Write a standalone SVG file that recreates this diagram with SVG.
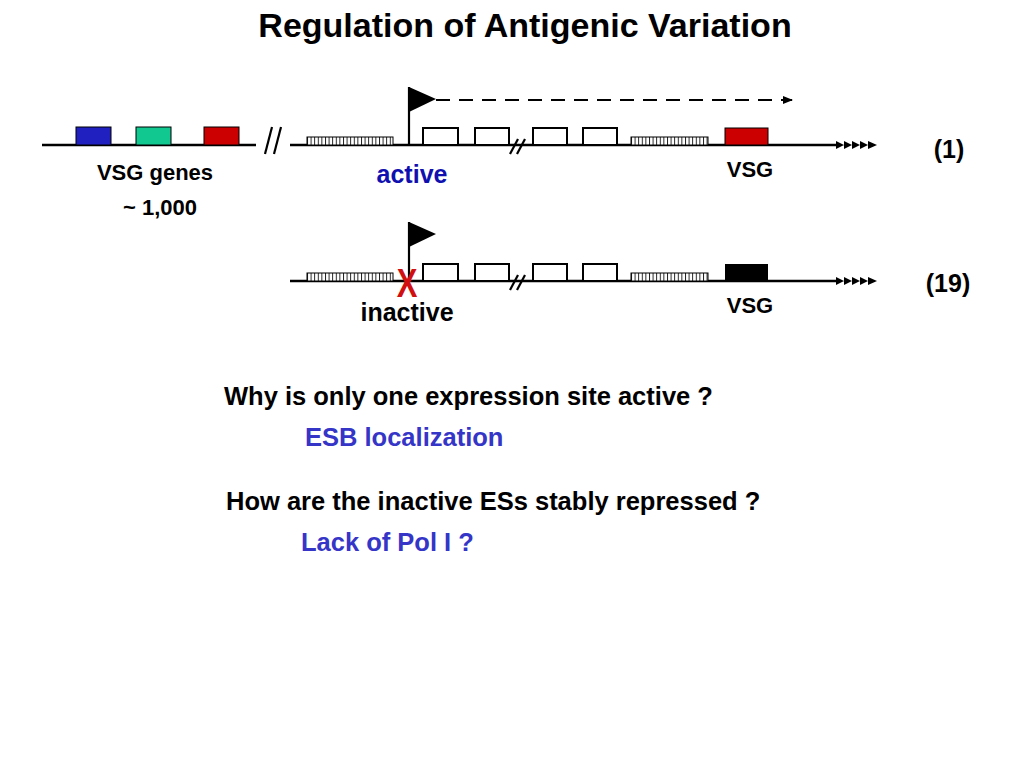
<svg xmlns="http://www.w3.org/2000/svg" width="1024" height="768" viewBox="0 0 1024 768">
<defs>
<style>
text{font-family:"Liberation Sans",Arial,sans-serif;font-weight:bold}
.ln{stroke:#000;stroke-width:2.5;fill:none}
.bx{fill:#fff;stroke:#000;stroke-width:2}
.th{stroke:#000;stroke-width:2.2;fill:none}
.hat{fill:url(#hatch);stroke:#000;stroke-width:1}
.q{font-size:25.5px;fill:#000}
.a{font-size:25.5px;fill:#3535c8}
</style>
<pattern id="hatch" patternUnits="userSpaceOnUse" width="3.6" height="10" x="307">
<rect width="3.6" height="10" fill="#fff"/>
<line x1="0.5" y1="0" x2="0.5" y2="10" stroke="#000" stroke-width="0.9"/>
</pattern>
<marker id="ah" markerWidth="10" markerHeight="8" refX="9" refY="4" orient="auto" markerUnits="userSpaceOnUse">
<path d="M0,0 L10,4 L0,8 Z" fill="#000"/>
</marker>
<g id="tail">
<path d="M0,-4 L8,0 L0,4 Z M8,-4 L16,0 L8,4 Z M16,-4 L24,0 L16,4 Z M24,-4 L32,0 L24,4 Z M32,-4 L41,0 L32,4 Z" fill="#000"/>
</g>
</defs>
<rect width="1024" height="768" fill="#fff"/>

<text x="525" y="37" text-anchor="middle" style="font-size:34px">Regulation of Antigenic Variation</text>

<g id="connectors">
<line class="ln" x1="42" y1="145" x2="256" y2="145"/>
<line class="th" x1="272" y1="127" x2="265" y2="154"/>
<line class="th" x1="281" y1="127" x2="274" y2="154"/>
<line class="ln" x1="290" y1="145" x2="838" y2="145"/>
<use href="#tail" x="836" y="145"/>
<line class="ln" x1="290" y1="281" x2="838" y2="281"/>
<use href="#tail" x="836" y="281"/>
<line x1="436" y1="100" x2="792" y2="100" stroke="#000" stroke-width="2" stroke-dasharray="14,9" marker-end="url(#ah)"/>
</g>

<g id="vsg-genes">
<rect x="76" y="127" width="35" height="18" fill="#2020c0" stroke="#000" stroke-width="1"/>
<rect x="136" y="127" width="35" height="18" fill="#10c890" stroke="#000" stroke-width="1"/>
<rect x="204" y="127" width="35" height="18" fill="#cc0000" stroke="#000" stroke-width="1"/>
<text x="155" y="180" text-anchor="middle" style="font-size:22px">VSG genes</text>
<text x="160" y="215" text-anchor="middle" style="font-size:22px">~ 1,000</text>
</g>

<g id="es-active">
<rect class="hat" x="307" y="137" width="86" height="8"/>
<line class="th" x1="409" y1="145" x2="409" y2="87"/>
<path d="M409,87 L436,99 L409,112 Z" fill="#000"/>
<rect class="bx" x="423" y="128" width="35" height="17"/>
<rect class="bx" x="475" y="128" width="34" height="17"/>
<line class="th" x1="510" y1="154" x2="518" y2="139"/>
<line class="th" x1="517" y1="154" x2="525" y2="139"/>
<rect class="bx" x="533" y="128" width="34" height="17"/>
<rect class="bx" x="583" y="128" width="34" height="17"/>
<rect class="hat" x="631" y="137" width="77" height="8"/>
<rect x="725" y="128" width="43" height="17" fill="#cc0000" stroke="#000" stroke-width="1"/>
<text x="750" y="177" text-anchor="middle" style="font-size:22px">VSG</text>
<text x="412" y="183" text-anchor="middle" style="font-size:25px;fill:#1010b0">active</text>
<text x="949" y="158" text-anchor="middle" style="font-size:25px">(1)</text>
</g>

<g id="es-inactive">
<rect class="hat" x="307" y="273" width="86" height="8"/>
<line class="th" x1="409" y1="281" x2="409" y2="222"/>
<path d="M409,222 L436,234 L409,247 Z" fill="#000"/>
<rect class="bx" x="423" y="264" width="35" height="17"/>
<rect class="bx" x="475" y="264" width="34" height="17"/>
<line class="th" x1="510" y1="290" x2="518" y2="275"/>
<line class="th" x1="517" y1="290" x2="525" y2="275"/>
<rect class="bx" x="533" y="264" width="34" height="17"/>
<rect class="bx" x="583" y="264" width="34" height="17"/>
<rect class="hat" x="631" y="273" width="77" height="8"/>
<rect x="725" y="264" width="43" height="17" fill="#000"/>
<text transform="translate(407,297) scale(1,1.3)" text-anchor="middle" style="font-size:31px;fill:#d01010">X</text>
<text x="750" y="313" text-anchor="middle" style="font-size:22px">VSG</text>
<text x="407" y="321" text-anchor="middle" style="font-size:25px">inactive</text>
<text x="948" y="292" text-anchor="middle" style="font-size:25px">(19)</text>
</g>

<text class="q" x="224" y="405">Why is only one expression site active ?</text>
<text class="a" x="305" y="446">ESB localization</text>
<text class="q" x="226" y="510">How are the inactive ESs stably repressed ?</text>
<text class="a" x="301" y="551">Lack of Pol I ?</text>
</svg>
